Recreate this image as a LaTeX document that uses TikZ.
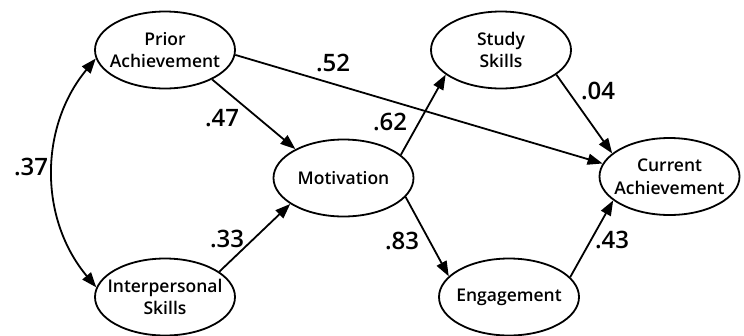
\documentclass[tikz,border=0pt]{standalone}
\usepackage{fontspec}
\setmainfont{Open Sans}
\IfFontExistsTF{Open Sans SemiBold}{\newfontfamily\semifont{Open Sans SemiBold}}{%
 \IfFontExistsTF{Open Sans Semibold}{\newfontfamily\semifont{Open Sans Semibold}}{%
  \IfFontExistsTF{OpenSans-SemiBold}{\newfontfamily\semifont{OpenSans-SemiBold}}{%
   \newfontfamily\semifont{Open Sans Bold}}}}
\usetikzlibrary{shapes.geometric,arrows.meta}
\begin{document}
\begin{tikzpicture}[x=1pt,y=-1pt,
  var/.style={ellipse,draw,line width=1.8pt,minimum width=140pt,minimum height=77pt,inner sep=0pt},
  vtext/.style={align=center,inner sep=0pt,font=\semifont\fontsize{17.5}{22.5}\selectfont},
  path/.style={line width=1.8pt,-{Triangle[length=15pt,width=11pt]}},
  coef/.style={font=\semifont\fontsize{24}{26}\selectfont,inner sep=0pt}]
\useasboundingbox (0,0) rectangle (744,335);
\node[var] (P) at (165,50) {};
\node[var] (S) at (501,50) {};
\node[var] (M) at (343.5,178) {};
\node[var] (C) at (669.5,176.5) {};
\node[var] (I) at (165,297) {};
\node[var] (E) at (509,297) {};
\node[vtext] (Pt) at (P.center) {Prior\\Achievement};
\node[vtext] (St) at (S.center) {Study\\Skills};
\node[vtext] (Mt) at (M.center) {Motivation};
\node[vtext] (Ct) at (C.center) {Current\\Achievement};
\node[vtext] (It) at (I.center) {Interpersonal\\Skills};
\node[vtext] (Et) at (E.center) {Engagement};
\draw[path] (P.-32.5) -- (M.149);
\draw[path] (P.-4) -- (C.169.5);
\draw[path] (I.25) -- (M.-154);
\draw[path] (M.22) -- (S.-156);
\draw[path] (M.-17.4) -- (E.161.6);
\draw[path] (S.-24) -- (C.158);
\draw[path] (E.18) -- (C.-157);
\draw[line width=1.8pt,{Triangle[length=15pt,width=11pt]}-{Triangle[length=15pt,width=11pt]}] (P.-173) .. controls (39,127) and (39,219) .. (I.172);
\node[coef] (l52) at (333,63) {.52};
\node[coef] (l47) at (222,118) {.47};
\node[coef] (l62) at (390,122) {.62};
\node[coef] (l04) at (598,91) {.04};
\node[coef] (l37) at (31,167) {.37};
\node[coef] (l33) at (227,239) {.33};
\node[coef] (l83) at (402,241) {.83};
\node[coef] (l43) at (612,240) {.43};
\end{tikzpicture}
\end{document}
